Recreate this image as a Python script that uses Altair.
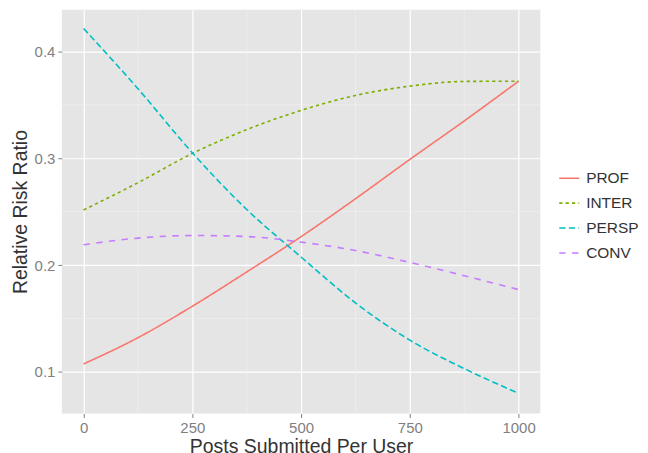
import altair as alt
import pandas as pd

posts = [0, 125, 250, 375, 500, 625, 750, 875, 1000]
prof = [0.1074, 0.132, 0.1614, 0.1935, 0.2265, 0.262, 0.2988, 0.3348, 0.372]
inter = [0.2515, 0.277, 0.3044, 0.3267, 0.3447, 0.3587, 0.3674, 0.3718, 0.372]
persp = [0.4214, 0.365, 0.305, 0.252, 0.2075, 0.1646, 0.1297, 0.1031, 0.080]
conv = [0.2189, 0.2252, 0.2276, 0.2267, 0.2214, 0.2136, 0.2024, 0.19, 0.177]

series = ["PROF", "INTER", "PERSP", "CONV"]
colors = ["#F8766D", "#7CAE00", "#00BFC4", "#C77CFF"]
dashes = [[1, 0], [3.2, 3.2], [6.4, 3.2], [6.4, 6.4]]

x_minor = [125, 375, 625, 875]
y_minor = [0.15, 0.25, 0.35]
x_ticks = [0, 250, 500, 750, 1000]
y_ticks = [0.1, 0.2, 0.3, 0.4]

rows = []
for name, vals in zip(series, [prof, inter, persp, conv]):
    for p, v in zip(posts, vals):
        rows.append({"posts": p, "rrr": v, "type": name})
df = pd.DataFrame(rows)

xscale = alt.Scale(domain=[-50, 1050], nice=False, zero=False)
yscale = alt.Scale(domain=[0.0611, 0.4389], nice=False, zero=False)

vminor = alt.Chart(pd.DataFrame({"x": x_minor})).mark_rule(
    color="#F2F2F2", strokeWidth=0.6
).encode(x=alt.X("x:Q", scale=xscale))

hminor = alt.Chart(pd.DataFrame({"y": y_minor})).mark_rule(
    color="#F2F2F2", strokeWidth=0.6
).encode(y=alt.Y("y:Q", scale=yscale))

leg = alt.Legend(
    title=None,
    orient="none",
    legendX=498,
    legendY=158,
    symbolType="stroke",
)

lines = alt.Chart(df).mark_line(strokeWidth=1.6, interpolate="monotone").encode(
    x=alt.X(
        "posts:Q",
        scale=xscale,
        title="Posts Submitted Per User",
        axis=alt.Axis(values=x_ticks, format="d"),
    ),
    y=alt.Y(
        "rrr:Q",
        scale=yscale,
        title="Relative Risk Ratio",
        axis=alt.Axis(values=y_ticks, format=".1f"),
    ),
    color=alt.Color(
        "type:N",
        scale=alt.Scale(domain=series, range=colors),
        sort=series,
        legend=leg,
    ),
    strokeDash=alt.StrokeDash(
        "type:N",
        scale=alt.Scale(domain=series, range=dashes),
        sort=series,
        legend=leg,
    ),
)

chart = (
    alt.layer(vminor, hminor, lines)
    .properties(
        width=480,
        height=405,
        autosize=alt.AutoSizeParams(type="none"),
        padding={"left": 54, "top": 1, "right": 100, "bottom": 60},
        background="white",
    )
    .configure_view(fill="#E5E5E5", stroke=None)
    .configure_axis(
        grid=True,
        gridColor="#FFFFFF",
        gridWidth=1.2,
        domain=False,
        ticks=True,
        tickColor="#7F7F7F",
        tickSize=4,
        tickWidth=1,
        labelColor="#7F7F7F",
        labelFont="Liberation Sans",
        labelFontSize=15,
        labelPadding=3,
        titleFont="Liberation Sans",
        titleFontSize=19.5,
        titleFontWeight="normal",
        titleColor="#333333",
    )
    .configure_axisX(titlePadding=2)
    .configure_axisY(titlePadding=4)
    .configure_legend(
        symbolSize=400,
        symbolStrokeWidth=1.6,
        rowPadding=5,
        labelOffset=6,
        labelFontSize=15.5,
        labelColor="#333333",
        labelFont="Liberation Sans",
        labelLimit=200,
    )
)

chart.save("out.html", embed_options={"renderer": "svg", "actions": False})
